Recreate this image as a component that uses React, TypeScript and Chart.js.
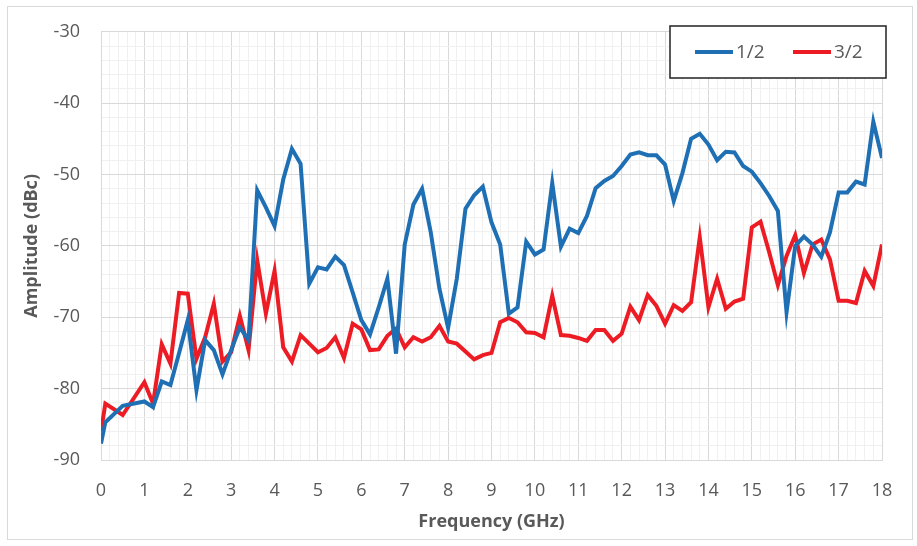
import React, { useEffect, useRef } from 'react';
import { Chart, registerables } from 'chart.js';

Chart.register(...registerables);

// Frequency points (GHz)
const frequencies: number[] = [
  0, 0.1, 0.5, 1.0, 1.2, 1.4, 1.6, 1.8, 2.0, 2.2, 2.4, 2.6, 2.8, 3.0, 3.2, 3.4, 3.6, 3.8,
  4.0, 4.2, 4.4, 4.6, 4.8, 5.0, 5.2, 5.4, 5.6, 5.8, 6.0, 6.2, 6.4, 6.6, 6.8, 7.0, 7.2,
  7.4, 7.6, 7.8, 8.0, 8.2, 8.4, 8.6, 8.8, 9.0, 9.2, 9.4, 9.6, 9.8, 10.0, 10.2, 10.4,
  10.6, 10.8, 11.0, 11.2, 11.4, 11.6, 11.8, 12.0, 12.2, 12.4, 12.6, 12.8, 13.0, 13.2,
  13.4, 13.6, 13.8, 14.0, 14.2, 14.4, 14.6, 14.8, 15.0, 15.2, 15.4, 15.6, 15.8, 16.0,
  16.2, 16.4, 16.6, 16.8, 17.0, 17.2, 17.4, 17.6, 17.8, 18.0,
];

// Series "1/2" (dBc)
const halfOrder: number[] = [
  -87.7, -84.7, -82.4, -81.8, -82.6, -79.0, -79.5, -75.0, -70.4, -80.2, -73.2, -74.6, -78.0,
  -74.6, -71.4, -73.2, -52.2, -54.6, -57.2, -50.7, -46.4, -48.5, -65.3, -63.0, -63.3, -61.5,
  -62.7, -66.5, -70.4, -72.4, -68.6, -64.6, -75.1, -59.8, -54.2, -52.0, -58.1, -66.0, -71.5,
  -64.6, -54.8, -52.9, -51.7, -56.7, -59.8, -69.5, -68.6, -59.4, -61.2, -60.5, -51.2, -60.1,
  -57.6, -58.2, -55.8, -51.9, -50.9, -50.2, -48.8, -47.2, -46.9, -47.3, -47.3, -48.6, -53.7,
  -49.8, -45.0, -44.3, -45.8, -48.0, -46.8, -46.9, -48.8, -49.6, -51.2, -53.0, -55.1, -69.3,
  -60.0, -58.7, -59.8, -61.5, -58.1, -52.5, -52.5, -51.0, -51.4, -42.6, -47.7,
];

// Series "3/2" (dBc)
const threeHalfOrder: number[] = [
  -86.0, -82.1, -83.7, -79.1, -82.1, -73.8, -76.5, -66.6, -66.7, -75.8, -72.8, -68.1, -76.2,
  -74.9, -69.8, -74.6, -62.0, -69.5, -63.5, -74.2, -76.2, -72.5, -73.7, -74.9, -74.3, -72.8,
  -75.7, -70.9, -71.7, -74.6, -74.5, -72.6, -71.6, -74.2, -72.8, -73.4, -72.8, -71.2, -73.4,
  -73.7, -74.8, -75.9, -75.3, -75.0, -70.7, -70.1, -70.7, -72.1, -72.2, -72.8, -67.0, -72.5,
  -72.6, -72.9, -73.3, -71.8, -71.8, -73.3, -72.3, -68.5, -70.4, -66.9, -68.4, -70.9, -68.3,
  -69.1, -67.9, -58.8, -68.6, -64.6, -68.8, -67.8, -67.4, -57.4, -56.6, -60.9, -65.5, -61.4,
  -58.5, -63.8, -59.8, -59.1, -61.9, -67.7, -67.7, -68.0, -63.5, -65.6, -59.8,
];

const seriesLabels: string[] = ['1/2', '3/2'];
const seriesColors: string[] = ['#1f6fb5', '#ed1c24'];

const xTitle = 'Frequency (GHz)';
const yTitle = 'Amplitude (dBc)';
const xMin = 0;
const xMax = 18;
const yMin = -90;
const yMax = -30;

const FONT = "'Open Sans', 'DejaVu Sans', sans-serif";
const TEXT = '#595959';
const MAJOR = '#d9d9d9';
const MINOR = '#f0f0f0';

const isMult = (v: number, m: number) => {
  const r = v / m;
  return Math.abs(r - Math.round(r)) < 1e-6;
};

const legendPlugin = {
  id: 'boxLegend',
  afterDraw(chart: any) {
    const ctx = chart.ctx as CanvasRenderingContext2D;
    const x0 = 670, y0 = 26, w = 216, h = 52;
    ctx.save();
    ctx.fillStyle = '#ffffff';
    ctx.fillRect(x0, y0, w, h);
    ctx.strokeStyle = '#222222';
    ctx.lineWidth = 1.5;
    ctx.strokeRect(x0, y0, w, h);
    const cy = y0 + h / 2;
    const items = [
      { lx: 695, tx: 736 },
      { lx: 793, tx: 834 },
    ];
    ctx.font = `19px ${FONT}`;
    ctx.textBaseline = 'middle';
    ctx.textAlign = 'left';
    items.forEach((it, i) => {
      ctx.strokeStyle = seriesColors[i];
      ctx.lineWidth = 4;
      ctx.beginPath();
      ctx.moveTo(it.lx, cy);
      ctx.lineTo(it.lx + 38, cy);
      ctx.stroke();
      ctx.fillStyle = TEXT;
      ctx.fillText(seriesLabels[i], it.tx, cy + 1);
    });
    ctx.restore();
  },
};

export default function App() {
  const canvasRef = useRef<HTMLCanvasElement | null>(null);

  useEffect(() => {
    document.body.style.margin = '0';
    const canvas = canvasRef.current;
    if (!canvas) return;
    const chart = new Chart(canvas, {
      type: 'line',
      data: {
        datasets: [halfOrder, threeHalfOrder].map((vals, i) => ({
          label: seriesLabels[i],
          data: frequencies.map((f, j) => ({ x: f, y: vals[j] })),
          borderColor: seriesColors[i],
          backgroundColor: seriesColors[i],
          borderWidth: 4,
          pointRadius: 0,
          tension: 0,
          fill: false,
        })),
      },
      options: {
        responsive: false,
        animation: false,
        devicePixelRatio: 1,
        layout: { padding: { left: 0, top: 27, right: 35, bottom: 0 } },
        plugins: {
          legend: { display: false },
          tooltip: { enabled: false },
        },
        scales: {
          x: {
            type: 'linear',
            min: xMin,
            max: xMax,
            afterFit: (scale: any) => {
              scale.height = 86;
            },
            ticks: {
              stepSize: 0.2,
              autoSkip: false,
              maxRotation: 0,
              minRotation: 0,
              padding: 20,
              color: TEXT,
              font: { family: FONT, size: 18 },
              callback: (v: any) => (isMult(Number(v), 1) ? String(Math.round(Number(v))) : ''),
            },
            grid: {
              drawTicks: false,
              color: (c: any) => (c.tick && isMult(c.tick.value, 1) ? MAJOR : MINOR),
              lineWidth: 1,
            },
            border: { display: true, color: MAJOR },
            title: {
              display: true,
              text: xTitle,
              color: TEXT,
              font: { family: FONT, size: 18, weight: 'bold' },
              padding: { top: 0, bottom: 13 },
            },
          },
          y: {
            type: 'linear',
            min: yMin,
            max: yMax,
            afterFit: (scale: any) => {
              scale.width = 101;
            },
            ticks: {
              stepSize: 2,
              autoSkip: false,
              padding: 21,
              color: TEXT,
              font: { family: FONT, size: 18 },
              callback: (v: any) => (isMult(Number(v), 10) ? String(Math.round(Number(v))) : ''),
            },
            grid: {
              drawTicks: false,
              color: (c: any) => (c.tick && isMult(c.tick.value, 10) ? MAJOR : MINOR),
              lineWidth: 1,
            },
            border: { display: true, color: MAJOR },
            title: {
              display: true,
              text: yTitle,
              color: TEXT,
              font: { family: FONT, size: 18, weight: 'bold' },
              padding: { top: 21, bottom: 0 },
            },
          },
        },
      },
      plugins: [legendPlugin],
    } as any);
    return () => chart.destroy();
  }, []);

  return (
    <div style={{ position: 'fixed', left: 0, top: 0, width: 917, height: 546, background: '#fff' }}>
      <div
        style={{
          position: 'absolute',
          left: 7,
          top: 6,
          width: 906,
          height: 534,
          border: '1px solid #d9d9d9',
          boxSizing: 'border-box',
        }}
      />
      <canvas
        ref={canvasRef}
        width={917}
        height={546}
        style={{ position: 'absolute', left: 0, top: 0, width: 917, height: 546 }}
      />
    </div>
  );
}
